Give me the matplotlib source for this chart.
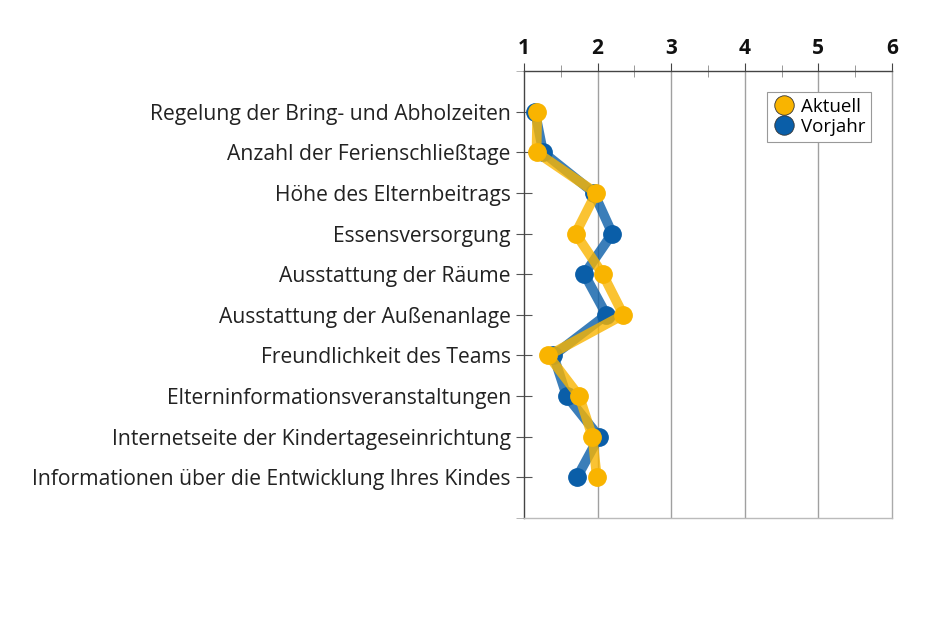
import matplotlib
matplotlib.use("Agg")
import matplotlib.pyplot as plt
from matplotlib.lines import Line2D

categories = [
    "Regelung der Bring- und Abholzeiten",
    "Anzahl der Ferienschließtage",
    "Höhe des Elternbeitrags",
    "Essensversorgung",
    "Ausstattung der Räume",
    "Ausstattung der Außenanlage",
    "Freundlichkeit des Teams",
    "Elterninformationsveranstaltungen",
    "Internetseite der Kindertageseinrichtung",
    "Informationen über die Entwicklung Ihres Kindes",
]
aktuell = [1.18, 1.17, 1.98, 1.70, 2.07, 2.35, 1.33, 1.75, 1.93, 1.99]
vorjahr = [1.15, 1.26, 1.95, 2.20, 1.82, 2.12, 1.40, 1.58, 2.02, 1.72]
x_ticks = [1, 2, 3, 4, 5, 6]

blue = "#0a5ea8"
yellow = "#f9b400"

plt.rcParams['font.family'] = ['Open Sans', 'DejaVu Sans']

fig = plt.figure(figsize=(9.4, 6.26), dpi=100)
ax = fig.add_axes([524/940, (626-518)/626, 368/940, 447/626])

ypos = list(range(1, len(categories) + 1))

ax.plot(vorjahr, ypos, color=blue, lw=7, alpha=0.8, solid_joinstyle='miter', zorder=3)
ax.plot(vorjahr, ypos, ls='none', marker='o', ms=12.5, color=blue, mec=blue, zorder=4)
ax.plot(aktuell, ypos, color=yellow, lw=7, alpha=0.8, solid_joinstyle='miter', zorder=5)
ax.plot(aktuell, ypos, ls='none', marker='o', ms=12.5, color=yellow, mec=yellow, zorder=6)

ax.set_xlim(1, 6)
ax.set_ylim(11, 0)

ax.xaxis.tick_top()
ax.set_xticks(x_ticks)
ax.set_xticklabels([str(t) for t in x_ticks], fontsize=15, fontweight='bold', color='#111111')
ax.set_xticks([1.5, 2.5, 3.5, 4.5, 5.5], minor=True)
ax.tick_params(axis='x', which='major', direction='out', length=6, color='#444444', pad=2.5, top=True, bottom=False)
ax.tick_params(axis='x', which='minor', direction='inout', length=9, color='#888888', top=True, bottom=False)

ax.set_yticks(ypos)
ax.set_yticklabels(categories, fontsize=15.2, color='#222222')
ax.set_yticks([0, 11], minor=True)
ax.tick_params(axis='y', which='both', direction='inout', length=12, color='#555555', pad=3.5)
ax.tick_params(axis='y', which='minor', color='#aaaaaa')

for x in x_ticks[1:-1]:
    ax.axvline(x, color='#a0a0a0', lw=1, zorder=1)

ax.spines['left'].set_color('#444444')
ax.spines['top'].set_color('#444444')
ax.spines['bottom'].set_color('#bbbbbb')
ax.spines['right'].set_color('#aaaaaa')
for s in ax.spines.values():
    s.set_linewidth(1)

handles = [
    Line2D([], [], ls='none', marker='o', ms=14, color=yellow, mec='#333333', mew=0.6),
    Line2D([], [], ls='none', marker='o', ms=14, color=blue, mec='#333333', mew=0.6),
]
leg = ax.legend(handles, ["Aktuell", "Vorjahr"], loc='upper left',
                bbox_to_anchor=((767-524)/368, (518-92)/447), fontsize=13.5, frameon=True, fancybox=False,
                edgecolor='#999999', framealpha=1, handletextpad=0.3, borderpad=0.3,
                labelspacing=0.12, handlelength=1.2, borderaxespad=0)
leg.get_frame().set_linewidth(0.8)

fig.savefig("out.png", dpi=100)
